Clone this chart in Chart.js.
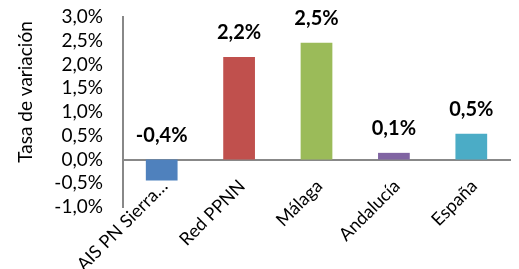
<!DOCTYPE html>
<html>
<head>
<meta charset="utf-8">
<script src="https://cdn.jsdelivr.net/npm/chart.js@4.4.1/dist/chart.umd.min.js"></script>
<style>
	html, body { margin: 0; padding: 0; background: #fff; }
	#wrap { width: 519px; height: 269px; position: relative; }
</style>
</head>
<body>
<div id="wrap"><canvas id="chart"></canvas></div>
<script>
// data
const categories = ['AIS PN Sierra…', 'Red PPNN', 'Málaga', 'Andalucía', 'España'];
const values = [-0.44, 2.16, 2.46, 0.14, 0.54];
const barColors = ['#4F81BD', '#C0504D', '#9BBB59', '#8064A2', '#4BACC6'];
const yTitle = 'Tasa de variación';
const yMin = -1, yMax = 3, yStep = 0.5;

const FONT = 'Lato, sans-serif';

function pct(v, digits)
{
	return v.toFixed(digits).replace('.', ',') + '%';
}

// value labels above each bar, and the rotated y title
const labelPlugin = {
	id: 'labels',
	afterDatasetsDraw(chart)
	{
		const ctx = chart.ctx;
		const meta = chart.getDatasetMeta(0);
		ctx.save();
		ctx.fillStyle = '#000';
		ctx.font = 'bold 20px ' + FONT;
		ctx.textAlign = 'center';
		ctx.textBaseline = 'middle';
		meta.data.forEach((bar, i) => {
			const top = Math.min(bar.y, bar.base);
			ctx.fillText(pct(values[i], 1), bar.x, top - 24);
		});

		ctx.translate(26, 92);
		ctx.rotate(-Math.PI / 2);
		ctx.font = '19px ' + FONT;
		ctx.fillText(yTitle, 0, 0);
		ctx.restore();
	}
};

const ctx = document.getElementById('chart').getContext('2d');
new Chart(ctx, {
	type: 'bar',
	data: {
		labels: categories,
		datasets: [{
			data: values,
			backgroundColor: barColors,
			borderWidth: 0,
			barPercentage: 0.41,
			categoryPercentage: 1
		}]
	},
	options: {
		responsive: true,
		maintainAspectRatio: false,
		animation: false,
		layout: {
			padding: { top: 17, right: 9, bottom: 62, left: 0 }
		},
		plugins: {
			legend: { display: false },
			tooltip: { enabled: false }
		},
		scales: {
			x: {
				position: { y: 0 },
				grid: { display: false, drawTicks: false },
				border: { display: true, color: '#888', width: 2 },
				ticks: {
					color: '#000',
					font: { family: FONT, size: 18 },
					minRotation: 45,
					maxRotation: 45,
					autoSkip: false,
					labelOffset: 3,
					padding: 16
				},
				afterFit: s => { s.height = 0; }
			},
			y: {
				min: yMin,
				max: yMax,
				// gap between labels and axis comes from an invisible tick length
				grid: { display: false, drawTicks: true, tickLength: 20 },
				border: { display: true, color: '#888', width: 2 },
				ticks: {
					stepSize: yStep,
					autoSkip: false,
					color: '#000',
					font: { family: FONT, size: 19 },
					padding: 0,
					callback: v => pct(v, 1)
				},
				afterFit: s => { s.width = 123; }
			}
		}
	},
	plugins: [labelPlugin]
});
</script>
</body>
</html>
